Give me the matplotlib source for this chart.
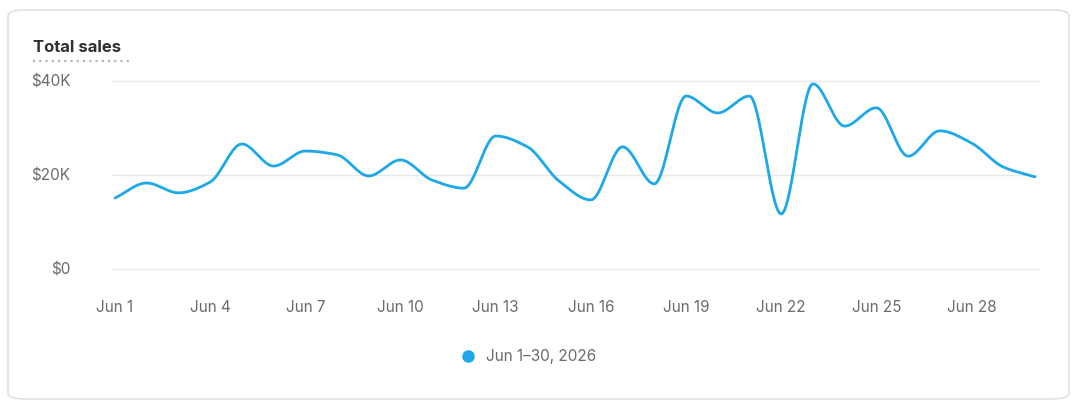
import numpy as np
import matplotlib
matplotlib.use("Agg")
import matplotlib.pyplot as plt
from matplotlib.patches import FancyBboxPatch
from matplotlib.lines import Line2D

plt.rcParams['font.family'] = ['Inter', 'DejaVu Sans']

days = list(range(1, 31))
sales = [15.1, 18.3, 16.2, 18.5, 26.6, 21.9, 25.1, 24.3, 19.8, 23.2,
         18.9, 17.2, 28.3, 26.0, 18.7, 14.7, 26.0, 18.1, 36.8, 33.2,
         36.8, 11.7, 39.4, 30.4, 34.3, 24.0, 29.4, 26.8, 21.7, 19.6]
sales = [v * 1000 for v in sales]
tick_days = [1, 4, 7, 10, 13, 16, 19, 22, 25, 28]
tick_labels = [f"Jun {d}" for d in tick_days]
y_ticks = [0, 20000, 40000]
y_labels = ["$0", "$20K", "$40K"]
legend_label = "Jun 1\u201330, 2026"

def monotone(x, y, n=20):
    x = np.asarray(x, float); y = np.asarray(y, float)
    h = np.diff(x); d = np.diff(y) / h
    m = np.zeros_like(y)
    m[0], m[-1] = d[0], d[-1]
    for i in range(1, len(y) - 1):
        if d[i-1] * d[i] <= 0:
            m[i] = 0
        else:
            m[i] = 3 * (h[i-1] + h[i]) / ((2*h[i] + h[i-1]) / d[i-1] + (h[i] + 2*h[i-1]) / d[i])
    xs, ys = [], []
    for i in range(len(x) - 1):
        t = np.linspace(0, 1, n, endpoint=False)
        h00 = 2*t**3 - 3*t**2 + 1; h10 = t**3 - 2*t**2 + t
        h01 = -2*t**3 + 3*t**2; h11 = t**3 - t**2
        xs.append(x[i] + t*h[i])
        ys.append(h00*y[i] + h10*h[i]*m[i] + h01*y[i+1] + h11*h[i]*m[i+1])
    xs.append([x[-1]]); ys.append([y[-1]])
    return np.concatenate(xs), np.concatenate(ys)

fig = plt.figure(figsize=(10.78, 4.08), dpi=100)
card = FancyBboxPatch((8/1078, 9/408), 1061/1078, 389/408,
    boxstyle="round,pad=0,rounding_size=0.015", transform=fig.transFigure,
    facecolor="white", edgecolor="#dcdcdc", linewidth=1, zorder=-10)
fig.patches.append(card)

ax = fig.add_axes([115/1078, 1 - 269/408, (1035-115)/1078, 188/408])
ax.set_zorder(5)
ax.set_facecolor("none")
xs, ys = monotone(days, sales)
ax.plot(xs, ys, color="#1ea7e9", lw=2, clip_on=False, solid_capstyle="round")
ax.set_xlim(1, 30)
ax.set_ylim(0, 40000)
ax.set_yticks(y_ticks)
ax.set_yticklabels(y_labels)
ax.set_xticks(tick_days)
ax.set_xticklabels(tick_labels)
for s in ax.spines.values():
    s.set_visible(False)
ax.tick_params(length=0, labelsize=11, colors="#6b6b6b")
ax.tick_params(axis='x', pad=22)
ax.tick_params(axis='y', pad=32)
for yt in y_ticks:
    ax.axhline(yt, xmin=-0.002, xmax=1.003, color="#e8e8e8", lw=1, zorder=0, clip_on=False)

fig.text(33/1078, 1 - 48/408, "Total sales", fontsize=12, fontweight="bold",
         color="#303030", va="center", ha="left")
fig.add_artist(Line2D([33/1078, 132/1078], [1 - 61/408, 1 - 61/408], color="#b0b0b0",
                      lw=1.5, linestyle=(0, (1, 2)), transform=fig.transFigure))

fig.add_artist(Line2D([468/1078], [1 - 356/408], marker="o", markersize=8, color="#1ea7e9",
                      linestyle="none", transform=fig.transFigure))
fig.text(486/1078, 1 - 356/408, legend_label, fontsize=11, color="#6b6b6b", va="center", ha="left")

fig.savefig("out.png", dpi=100)
